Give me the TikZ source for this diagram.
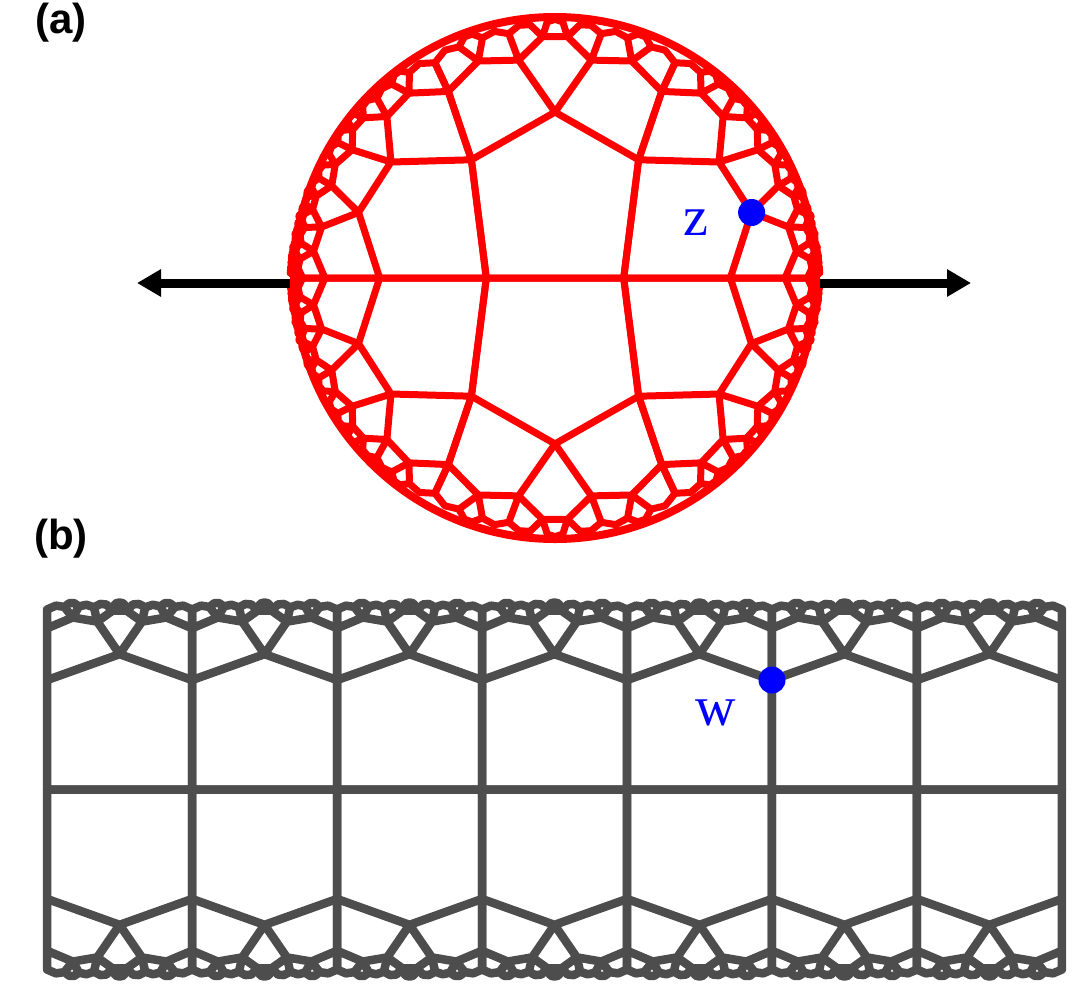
\documentclass[tikz,border=0pt]{standalone}
\usepackage{fontspec}
\setmainfont{Liberation Serif}
\setsansfont{Liberation Sans}
\usetikzlibrary{arrows.meta}
\definecolor{bandgray}{HTML}{4D4D4D}

\ExplSyntaxOn
\fparray_new:Nn \g_hyp_pts_fparray { 30000 }
\int_new:N \g_hyp_n_int
\int_new:N \l_hyp_p_int
\int_new:N \l_hyp_ja_int
\int_new:N \l_hyp_jb_int
\int_new:N \l_hyp_jc_int
\tl_new:N \l_hyp_key_tl
\tl_new:N \g_hyp_band_tl
\tl_new:N \g_hyp_diskzero_tl
\tl_new:N \g_hyp_diskpos_tl
\clist_map_inline:nn { px, py, pt, qx, qy, qt, zx, zy, zt, ca, cb, cc, cn, f, sx, sy, st, m, cx, cy, ch, sh }
  { \fp_new:c { l_hyp_#1_fp } }
\int_step_inline:nn { 5 }
  {
    \fp_new:c { l_hyp_wx#1_fp }
    \fp_new:c { l_hyp_wy#1_fp }
    \fp_new:c { l_hyp_wt#1_fp }
  }
\fp_const:Nn \c_hyp_a_fp { ln( cos(pi/5)/sin(pi/4) + sqrt( (cos(pi/5)/sin(pi/4))^2 - 1 ) ) }
\fp_const:Nn \c_hyp_rho_fp { ln( cos(pi/4)/sin(pi/5) + sqrt( (cos(pi/4)/sin(pi/5))^2 - 1 ) ) }
\fp_const:Nn \c_hyp_cr_fp { ln( cot(pi/5)*cot(pi/4) + sqrt( (cot(pi/5)*cot(pi/4))^2 - 1 ) ) }
\fp_const:Nn \c_hyp_sha_fp { ( exp(\c_hyp_a_fp) - exp(-\c_hyp_a_fp) ) / 2 }
\fp_const:Nn \c_hyp_cha_fp { ( exp(\c_hyp_a_fp) + exp(-\c_hyp_a_fp) ) / 2 }
\fp_const:Nn \c_hyp_shb_fp { ( exp(2*\c_hyp_a_fp) - exp(-2*\c_hyp_a_fp) ) / 2 }
\fp_const:Nn \c_hyp_chb_fp { ( exp(2*\c_hyp_a_fp) + exp(-2*\c_hyp_a_fp) ) / 2 }
\fp_const:Nn \c_hyp_sht_fp { ( exp(\c_hyp_rho_fp+\c_hyp_cr_fp) - exp(-\c_hyp_rho_fp-\c_hyp_cr_fp) ) / 2 }
\fp_const:Nn \c_hyp_cht_fp { ( exp(\c_hyp_rho_fp+\c_hyp_cr_fp) + exp(-\c_hyp_rho_fp-\c_hyp_cr_fp) ) / 2 }
\fp_const:Nn \c_hyp_ta_fp { \c_hyp_sha_fp / \c_hyp_cha_fp }

\cs_new:Npn \hyp_item:nnn #1#2#3
  { \fparray_item:Nn \g_hyp_pts_fparray { ( #1 - 1 ) * 15 + ( #2 - 1 ) * 3 + #3 } }
\cs_new:Npn \hyp_w:nn #1#2 { \use:c { l_hyp_w #1 #2 _fp } }

\cs_new_protected:Npn \hyp_store:
  {
    \int_gincr:N \g_hyp_n_int
    \int_step_inline:nn { 5 }
      {
        \fparray_gset:Nnn \g_hyp_pts_fparray
          { ( \g_hyp_n_int - 1 ) * 15 + ( ##1 - 1 ) * 3 + 1 } { \hyp_w:nn x {##1} }
        \fparray_gset:Nnn \g_hyp_pts_fparray
          { ( \g_hyp_n_int - 1 ) * 15 + ( ##1 - 1 ) * 3 + 2 } { \hyp_w:nn y {##1} }
        \fparray_gset:Nnn \g_hyp_pts_fparray
          { ( \g_hyp_n_int - 1 ) * 15 + ( ##1 - 1 ) * 3 + 3 } { \hyp_w:nn t {##1} }
      }
  }

\cs_new_protected:Npn \hyp_try_add:n #1
  {
    \fp_set:Nn \l_hyp_sx_fp { \hyp_w:nn x 1 + \hyp_w:nn x 2 + \hyp_w:nn x 3 + \hyp_w:nn x 4 + \hyp_w:nn x 5 }
    \fp_set:Nn \l_hyp_sy_fp { \hyp_w:nn y 1 + \hyp_w:nn y 2 + \hyp_w:nn y 3 + \hyp_w:nn y 4 + \hyp_w:nn y 5 }
    \fp_set:Nn \l_hyp_st_fp { \hyp_w:nn t 1 + \hyp_w:nn t 2 + \hyp_w:nn t 3 + \hyp_w:nn t 4 + \hyp_w:nn t 5 }
    \fp_set:Nn \l_hyp_m_fp { sqrt( \l_hyp_st_fp ^ 2 - \l_hyp_sx_fp ^ 2 - \l_hyp_sy_fp ^ 2 ) }
    \fp_set:Nn \l_hyp_cx_fp { \l_hyp_sx_fp / \l_hyp_m_fp }
    \fp_set:Nn \l_hyp_cy_fp { \l_hyp_sy_fp / \l_hyp_m_fp }
    \bool_lazy_all:nT
      {
        { \fp_compare_p:nNn { \l_hyp_cy_fp } > { 0 } }
        { \fp_compare_p:nNn { \l_hyp_cy_fp } < { #1 } }
        { \fp_compare_p:nNn { abs( \l_hyp_sx_fp / \l_hyp_st_fp ) } < { \c_hyp_ta_fp } }
        { \int_compare_p:nNn { \g_hyp_n_int } < { 1900 } }
      }
      {
        \tl_set:Nx \l_hyp_key_tl
          { hypseen \fp_eval:n { round( \l_hyp_cx_fp + 1000 , 3 ) } / \fp_eval:n { round( \l_hyp_cy_fp + 1000 , 3 ) } }
        \cs_if_exist:cF { \l_hyp_key_tl }
          {
            \cs_gset:cpn { \l_hyp_key_tl } { }
            \hyp_store:
          }
      }
  }

\cs_new_protected:Npn \hyp_reflect:nn #1#2
  {
    \int_set:Nn \l_hyp_ja_int { #2 }
    \int_set:Nn \l_hyp_jb_int { \int_mod:nn { #2 } { 5 } + 1 }
    \fp_set:Nn \l_hyp_px_fp { \hyp_item:nnn {#1} { \l_hyp_ja_int } { 1 } }
    \fp_set:Nn \l_hyp_py_fp { \hyp_item:nnn {#1} { \l_hyp_ja_int } { 2 } }
    \fp_set:Nn \l_hyp_pt_fp { \hyp_item:nnn {#1} { \l_hyp_ja_int } { 3 } }
    \fp_set:Nn \l_hyp_qx_fp { \hyp_item:nnn {#1} { \l_hyp_jb_int } { 1 } }
    \fp_set:Nn \l_hyp_qy_fp { \hyp_item:nnn {#1} { \l_hyp_jb_int } { 2 } }
    \fp_set:Nn \l_hyp_qt_fp { \hyp_item:nnn {#1} { \l_hyp_jb_int } { 3 } }
    \fp_set:Nn \l_hyp_ca_fp { \l_hyp_py_fp * \l_hyp_qt_fp - \l_hyp_pt_fp * \l_hyp_qy_fp }
    \fp_set:Nn \l_hyp_cb_fp { \l_hyp_pt_fp * \l_hyp_qx_fp - \l_hyp_px_fp * \l_hyp_qt_fp }
    \fp_set:Nn \l_hyp_cc_fp { \l_hyp_px_fp * \l_hyp_qy_fp - \l_hyp_py_fp * \l_hyp_qx_fp }
    \fp_set:Nn \l_hyp_cn_fp { \l_hyp_ca_fp ^ 2 + \l_hyp_cb_fp ^ 2 - \l_hyp_cc_fp ^ 2 }
    \fp_set_eq:cN { l_hyp_wx1_fp } \l_hyp_px_fp
    \fp_set_eq:cN { l_hyp_wy1_fp } \l_hyp_py_fp
    \fp_set_eq:cN { l_hyp_wt1_fp } \l_hyp_pt_fp
    \fp_set_eq:cN { l_hyp_wx2_fp } \l_hyp_qx_fp
    \fp_set_eq:cN { l_hyp_wy2_fp } \l_hyp_qy_fp
    \fp_set_eq:cN { l_hyp_wt2_fp } \l_hyp_qt_fp
    \int_step_inline:nn { 3 }
      {
        \int_set:Nn \l_hyp_jc_int { \int_mod:nn { \l_hyp_jb_int + ##1 - 1 } { 5 } + 1 }
        \fp_set:Nn \l_hyp_zx_fp { \hyp_item:nnn {#1} { \l_hyp_jc_int } { 1 } }
        \fp_set:Nn \l_hyp_zy_fp { \hyp_item:nnn {#1} { \l_hyp_jc_int } { 2 } }
        \fp_set:Nn \l_hyp_zt_fp { \hyp_item:nnn {#1} { \l_hyp_jc_int } { 3 } }
        \fp_set:Nn \l_hyp_f_fp
          { 2 * ( \l_hyp_zx_fp * \l_hyp_ca_fp + \l_hyp_zy_fp * \l_hyp_cb_fp + \l_hyp_zt_fp * \l_hyp_cc_fp ) / \l_hyp_cn_fp }
        \fp_set:cn { l_hyp_wx \int_eval:n { ##1 + 2 } _fp } { \l_hyp_zx_fp - \l_hyp_f_fp * \l_hyp_ca_fp }
        \fp_set:cn { l_hyp_wy \int_eval:n { ##1 + 2 } _fp } { \l_hyp_zy_fp - \l_hyp_f_fp * \l_hyp_cb_fp }
        \fp_set:cn { l_hyp_wt \int_eval:n { ##1 + 2 } _fp } { \l_hyp_zt_fp + \l_hyp_f_fp * \l_hyp_cc_fp }
      }
  }

\cs_new_protected:Npn \hyp_init:
  {
    \fp_set:cn { l_hyp_wx1_fp } { - \c_hyp_sha_fp }
    \fp_set:cn { l_hyp_wy1_fp } { 0 }
    \fp_set:cn { l_hyp_wt1_fp } { \c_hyp_cha_fp }
    \fp_set:cn { l_hyp_wx2_fp } { \c_hyp_sha_fp }
    \fp_set:cn { l_hyp_wy2_fp } { 0 }
    \fp_set:cn { l_hyp_wt2_fp } { \c_hyp_cha_fp }
    \fp_set:cn { l_hyp_wx3_fp } { \c_hyp_sha_fp * \c_hyp_chb_fp }
    \fp_set:cn { l_hyp_wy3_fp } { \c_hyp_shb_fp }
    \fp_set:cn { l_hyp_wt3_fp } { \c_hyp_cha_fp * \c_hyp_chb_fp }
    \fp_set:cn { l_hyp_wx4_fp } { 0 }
    \fp_set:cn { l_hyp_wy4_fp } { \c_hyp_sht_fp }
    \fp_set:cn { l_hyp_wt4_fp } { \c_hyp_cht_fp }
    \fp_set:cn { l_hyp_wx5_fp } { - \c_hyp_sha_fp * \c_hyp_chb_fp }
    \fp_set:cn { l_hyp_wy5_fp } { \c_hyp_shb_fp }
    \fp_set:cn { l_hyp_wt5_fp } { \c_hyp_cha_fp * \c_hyp_chb_fp }
  }

\cs_new_protected:Npn \hyp_generate:n #1
  {
    \hyp_init:
    \hyp_try_add:n {#1}
    \int_set:Nn \l_hyp_p_int { 1 }
    \int_until_do:nNnn { \l_hyp_p_int } > { \g_hyp_n_int }
      {
        \int_step_inline:nn { 5 }
          {
            \hyp_reflect:nn { \l_hyp_p_int } { ##1 }
            \hyp_try_add:n {#1}
          }
        \int_incr:N \l_hyp_p_int
      }
  }

\cs_new:Npn \hyp_bpt:nn #1#2
  {
    (
    \fp_eval:n { round( 136.6 * 0.5 * ln( ( \hyp_item:nnn {#1}{#2}{3} + \hyp_item:nnn {#1}{#2}{1} ) / ( \hyp_item:nnn {#1}{#2}{3} - \hyp_item:nnn {#1}{#2}{1} ) ) , 2 ) }
    ,
    \fp_eval:n { round( -121 * atan( \hyp_item:nnn {#1}{#2}{2} ) , 2 ) }
    )
  }

\cs_new:Npn \hyp_dpt:nn #1#2
  {
    (
    \fp_eval:n { round( 265 * ( \hyp_item:nnn {#1}{#2}{1} * \l_hyp_ch_fp + \hyp_item:nnn {#1}{#2}{3} * \l_hyp_sh_fp ) / ( 1 + \hyp_item:nnn {#1}{#2}{1} * \l_hyp_sh_fp + \hyp_item:nnn {#1}{#2}{3} * \l_hyp_ch_fp ) , 2 ) }
    ,
    \fp_eval:n { round( -265 * \hyp_item:nnn {#1}{#2}{2} / ( 1 + \hyp_item:nnn {#1}{#2}{1} * \l_hyp_sh_fp + \hyp_item:nnn {#1}{#2}{3} * \l_hyp_ch_fp ) , 2 ) }
    )
  }

\cs_new_protected:Npn \hyp_poly:NN #1#2
  {
    \int_step_inline:nn { \g_hyp_n_int }
      {
        \tl_gput_right:Nx #1
          { #2 {##1}{1} -- #2 {##1}{2} -- #2 {##1}{3} -- #2 {##1}{4} -- #2 {##1}{5} -- cycle ~ }
      }
  }

\cs_new_protected:Npn \hyp_build:nn #1#2
  {
    \hyp_generate:n {#1}
    \tl_gset:Nn \g_hyp_band_tl { \draw [ bandline ] }
    \hyp_poly:NN \g_hyp_band_tl \hyp_bpt:nn
    \tl_gput_right:Nn \g_hyp_band_tl { ; }
    \fp_set:Nn \l_hyp_ch_fp { 1 }
    \fp_set:Nn \l_hyp_sh_fp { 0 }
    \tl_gset:Nn \g_hyp_diskzero_tl { \draw [ diskline ] }
    \hyp_poly:NN \g_hyp_diskzero_tl \hyp_dpt:nn
    \tl_gput_right:Nn \g_hyp_diskzero_tl { ; }
    \tl_gset:Nn \g_hyp_diskpos_tl { \draw [ diskline ] }
    \int_step_inline:nn {#2}
      {
        \fp_set:Nn \l_hyp_ch_fp { ( exp( 2 * ##1 * \c_hyp_a_fp ) + exp( -2 * ##1 * \c_hyp_a_fp ) ) / 2 }
        \fp_set:Nn \l_hyp_sh_fp { ( exp( 2 * ##1 * \c_hyp_a_fp ) - exp( -2 * ##1 * \c_hyp_a_fp ) ) / 2 }
        \hyp_poly:NN \g_hyp_diskpos_tl \hyp_dpt:nn
      }
    \tl_gput_right:Nn \g_hyp_diskpos_tl { ; }
  }

\hyp_build:nn { 20.2 } { 4 }
\cs_new_protected:Npn \hypBand { \tl_use:N \g_hyp_band_tl }
\cs_new_protected:Npn \hypDiskZero { \tl_use:N \g_hyp_diskzero_tl }
\cs_new_protected:Npn \hypDiskPos { \tl_use:N \g_hyp_diskpos_tl }
\ExplSyntaxOff

\begin{document}
\begin{tikzpicture}[x=0.5pt,y=-0.5pt,
  bandline/.style={draw=bandgray,line width=4.25pt,line join=round},
  diskline/.style={draw=red,line width=3.5pt,line join=round},
  dotstyle/.style={circle,fill=blue,inner sep=0pt,minimum size=13.5pt},
  varlabel/.style={text=blue,inner sep=0pt,font=\fontsize{28}{30}\selectfont},
  panellabel/.style={inner sep=0pt,font=\sffamily\bfseries\fontsize{21}{24}\selectfont},
  axisarrow/.style={line width=4.5pt,-{Triangle[length=12pt,width=13pt]}}]
\useasboundingbox (0,0) rectangle (1091,991);

% (b) band model
\foreach \k in {-3,...,3} {
  \begin{scope}[shift={(554.5+144.97*\k,789.5)}]
    \hypBand
    \begin{scope}[yscale=-1]\hypBand\end{scope}
  \end{scope}
}

% (a) Poincare disk
\begin{scope}[shift={(555,278)}]
  \hypDiskZero
  \begin{scope}[yscale=-1]\hypDiskZero\end{scope}
  \foreach \sx/\sy in {1/1,1/-1,-1/1,-1/-1} {
    \begin{scope}[xscale=\sx,yscale=\sy]\hypDiskPos\end{scope}
  }
  \draw[red,line width=4pt] (0,0) circle[radius=261];
\end{scope}

% arrows
\coordinate (lstart) at (290,283);
\coordinate (lend) at (137,283);
\coordinate (rstart) at (820,283);
\coordinate (rend) at (971,283);
\draw[axisarrow] (lstart) -- (lend);
\draw[axisarrow] (rstart) -- (rend);

% points and labels
\node[dotstyle] (zdot) at (751.6,212.5) {};
\node[varlabel] (zlab) at (696,223) {z};
\node[dotstyle] (wdot) at (772,680) {};
\node[varlabel] (wlab) at (716,713) {w};
\node[panellabel] (alab) at (61,23) {(a)};
\node[panellabel] (blab) at (61,539) {(b)};
\end{tikzpicture}
\end{document}
